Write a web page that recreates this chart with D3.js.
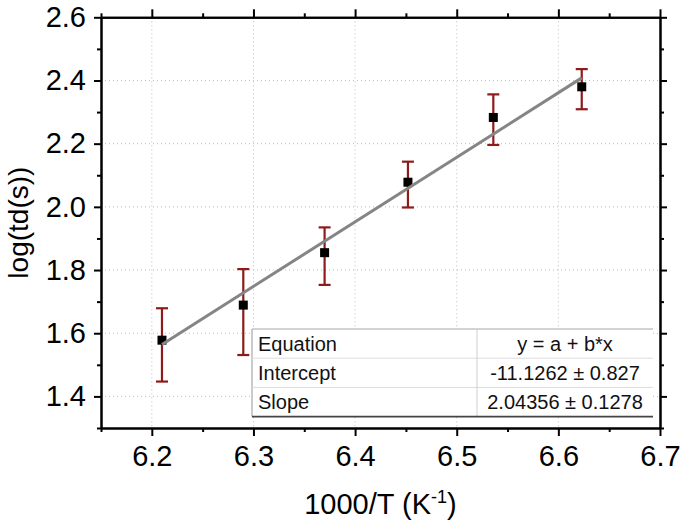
<!DOCTYPE html>
<html>
<head>
<meta charset="utf-8">
<script src="https://cdn.jsdelivr.net/npm/d3@7/dist/d3.min.js"></script>
<style>
  html, body { margin: 0; padding: 0; background: #fff; }
  svg { display: block; font-family: "Liberation Sans", Arial, sans-serif; }
</style>
</head>
<body>
<svg id="chart" width="685" height="531"></svg>
<script>
// ---- data ----
const xValues = [6.21, 6.29, 6.37, 6.452, 6.536, 6.623];
const yValues = [1.578, 1.689, 1.855, 2.078, 2.283, 2.380];
const yHigh   = [1.679, 1.803, 1.935, 2.143, 2.356, 2.436];
const yLow    = [1.447, 1.531, 1.753, 1.998, 2.196, 2.309];
const fitIntercept = -11.1262;
const fitSlope = 2.04356;
const xTickValues = [6.2, 6.3, 6.4, 6.5, 6.6, 6.7];
const xMinorValues = [6.15, 6.25, 6.35, 6.45, 6.55, 6.65];
const yTickValues = [1.4, 1.6, 1.8, 2.0, 2.2, 2.4, 2.6];
const yMinorValues = [1.3, 1.5, 1.7, 1.9, 2.1, 2.3, 2.5];
const tableRows = [
  ["Equation", "y = a + b*x"],
  ["Intercept", "-11.1262 \u00B1 0.827"],
  ["Slope", "2.04356 \u00B1 0.1278"]
];

// ---- layout ----
const L = 101, R = 660, T = 17.3, B = 428;
const svg = d3.select("#chart");
const x = d3.scaleLinear().domain([6.15, 6.7]).range([L, R]);
const y = d3.scaleLinear().domain([1.3, 2.6]).range([B, T]);

// grid
const grid = svg.append("g").attr("stroke", "#bdbdbd").attr("stroke-width", 1).attr("stroke-dasharray", "1,3");
xTickValues.filter(v => v < 6.69).forEach(v => {
  grid.append("line").attr("x1", x(v)).attr("x2", x(v)).attr("y1", T).attr("y2", B);
});
yTickValues.filter(v => v < 2.59).forEach(v => {
  grid.append("line").attr("x1", L).attr("x2", R).attr("y1", y(v)).attr("y2", y(v));
});

// table (white background covers grid)
const tX0 = 252, tX1 = 653, tCol = 477, tY0 = 329, rowH = 29.2;
const tbl = svg.append("g");
tbl.append("rect").attr("x", tX0).attr("y", tY0).attr("width", tX1 - tX0).attr("height", rowH * 3).attr("fill", "#fff");
tbl.append("line").attr("x1", tX0).attr("x2", tX1).attr("y1", tY0).attr("y2", tY0).attr("stroke", "#a8a8a8").attr("stroke-width", 1.2);
tbl.append("line").attr("x1", tX0).attr("x2", tX0).attr("y1", tY0).attr("y2", tY0 + rowH * 3).attr("stroke", "#a8a8a8").attr("stroke-width", 1.2);
for (let i = 1; i < 3; i++) {
  tbl.append("line").attr("x1", tX0).attr("x2", tX1).attr("y1", tY0 + rowH * i).attr("y2", tY0 + rowH * i).attr("stroke", "#dcdcdc").attr("stroke-width", 1);
}
tbl.append("line").attr("x1", tCol).attr("x2", tCol).attr("y1", tY0).attr("y2", tY0 + rowH * 3).attr("stroke", "#cfcfcf").attr("stroke-width", 1);
tbl.append("line").attr("x1", tX0).attr("x2", tX1).attr("y1", tY0 + rowH * 3).attr("y2", tY0 + rowH * 3).attr("stroke", "#444").attr("stroke-width", 1.8);
tableRows.forEach((r, i) => {
  const by = tY0 + rowH * i + 21.5;
  tbl.append("text").attr("x", tX0 + 6).attr("y", by).attr("font-size", 20).attr("fill", "#111").text(r[0]);
  tbl.append("text").attr("x", (tCol + tX1) / 2).attr("y", by).attr("text-anchor", "middle").attr("font-size", 20).attr("fill", "#111").text(r[1]);
});

// error bars
const errColor = "#8e1a1a";
const eb = svg.append("g").attr("stroke", errColor).attr("stroke-width", 2.2);
xValues.forEach((xv, i) => {
  const cx = x(xv);
  eb.append("line").attr("x1", cx).attr("x2", cx).attr("y1", y(yHigh[i])).attr("y2", y(yLow[i]));
  eb.append("line").attr("x1", cx - 6).attr("x2", cx + 6).attr("y1", y(yHigh[i])).attr("y2", y(yHigh[i]));
  eb.append("line").attr("x1", cx - 6).attr("x2", cx + 6).attr("y1", y(yLow[i])).attr("y2", y(yLow[i]));
});

// markers
svg.append("g").selectAll("rect").data(xValues).join("rect")
  .attr("x", (d) => x(d) - 4.5).attr("y", (d, i) => y(yValues[i]) - 4.5)
  .attr("width", 9).attr("height", 9).attr("fill", "#000");

// fit line
const xExt = d3.extent(xValues);
svg.append("path")
  .datum(xExt.map(v => [v, fitIntercept + fitSlope * v]))
  .attr("d", d3.line().x(d => x(d[0])).y(d => y(d[1])))
  .attr("fill", "none").attr("stroke", "#858585").attr("stroke-width", 3);

// axes
function styleAxis(g) {
  g.selectAll("path.domain").attr("stroke", "#000").attr("stroke-width", 2);
  g.selectAll(".tick line").attr("stroke", "#000").attr("stroke-width", 2);
  g.selectAll(".tick text").attr("font-size", 29).attr("fill", "#000").attr("font-family", "'Liberation Sans', Arial, sans-serif");
}
const fmt = d3.format(".1f");
// bottom
svg.append("g").attr("transform", `translate(0,${B})`)
  .call(d3.axisBottom(x).tickValues(xMinorValues).tickSize(4).tickFormat("").tickSizeOuter(0)).call(styleAxis);
svg.append("g").attr("transform", `translate(0,${B})`)
  .call(d3.axisBottom(x).tickValues(xTickValues).tickSize(8).tickPadding(9).tickFormat(fmt).tickSizeOuter(0)).call(styleAxis);
// top
svg.append("g").attr("transform", `translate(0,${T})`)
  .call(d3.axisTop(x).tickValues(xMinorValues).tickSize(4).tickFormat("").tickSizeOuter(0)).call(styleAxis);
svg.append("g").attr("transform", `translate(0,${T})`)
  .call(d3.axisTop(x).tickValues(xTickValues).tickSize(8).tickFormat("").tickSizeOuter(0)).call(styleAxis);
// left
svg.append("g").attr("transform", `translate(${L},0)`)
  .call(d3.axisLeft(y).tickValues(yMinorValues).tickSize(4).tickFormat("").tickSizeOuter(0)).call(styleAxis);
svg.append("g").attr("transform", `translate(${L},0)`)
  .call(d3.axisLeft(y).tickValues(yTickValues).tickSize(7).tickPadding(8).tickFormat(fmt).tickSizeOuter(0)).call(styleAxis);
// right
svg.append("g").attr("transform", `translate(${R},0)`)
  .call(d3.axisRight(y).tickValues(yMinorValues).tickSize(4).tickFormat("").tickSizeOuter(0)).call(styleAxis);
svg.append("g").attr("transform", `translate(${R},0)`)
  .call(d3.axisRight(y).tickValues(yTickValues).tickSize(7).tickFormat("").tickSizeOuter(0)).call(styleAxis);

// axis titles
const xt = svg.append("text").attr("x", (L + R) / 2).attr("y", 514).attr("text-anchor", "middle")
  .attr("font-size", 29).attr("fill", "#000");
xt.append("tspan").text("1000/T (K");
xt.append("tspan").attr("font-size", 18).attr("dy", -11).text("-1");
xt.append("tspan").attr("dy", 11).text(")");

svg.append("text").attr("transform", `translate(28,${(T + B) / 2}) rotate(-90)`)
  .attr("text-anchor", "middle").attr("font-size", 28).attr("fill", "#000").text("log(td(s))");
</script>
</body>
</html>
